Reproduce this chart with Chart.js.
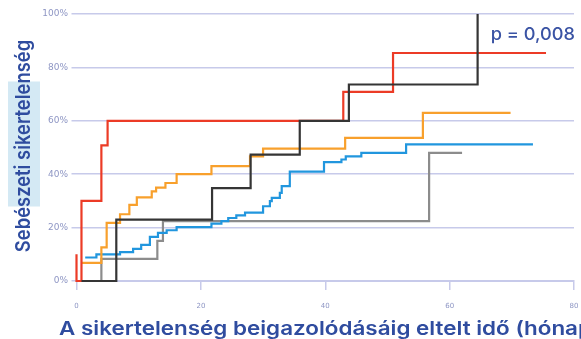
<!DOCTYPE html>
<html>
<head>
<meta charset="utf-8">
<script src="https://cdn.jsdelivr.net/npm/chart.js@4.4.1/dist/chart.umd.min.js"></script>
<style>
  html, body { margin: 0; padding: 0; background: #ffffff; overflow: hidden; }
  #wrap { width: 581px; height: 339px; position: relative; }
</style>
</head>
<body>
<div id="wrap"><canvas id="chart"></canvas></div>
<script>
// Cumulative surgical failure (%) by months until failure was confirmed
const blackMonths = [0.8, 6.4, 21.8, 28.0, 35.9, 43.8, 64.5];
const blackValues = [0, 23, 34.8, 47.3, 60, 73.6, 100];

const redMonths = [0, 0, 0.8, 4.0, 5.0, 42.9, 50.9, 75.5];
const redValues = [10, 0, 30, 50.8, 60, 70.8, 85.4, 85.4];

const orangeMonths = [0.8, 4.0, 4.85, 7.0, 8.5, 9.7, 12.1, 12.8, 14.3, 16.1, 21.7, 27.9, 30.0, 43.2, 55.7, 69.8];
const orangeValues = [6.8, 12.6, 21.8, 25, 28.5, 31.3, 33.6, 35, 36.7, 40, 43, 46.7, 49.6, 53.6, 63, 63];

const blueMonths = [1.4, 3.2, 7.0, 9.1, 10.4, 11.8, 13.1, 14.5, 16.1, 21.7, 23.3, 24.4, 25.7, 27.1, 30.0, 31.1, 31.4, 32.7, 33.0, 34.3, 39.8, 42.6, 43.3, 45.8, 53.0, 73.4];
const blueValues = [8.8, 10, 10.8, 12, 13.5, 16.5, 18, 19, 20.2, 21.5, 22.4, 23.6, 24.6, 25.6, 28, 29.9, 31.1, 33, 35.5, 41, 44.5, 45.5, 46.7, 48, 51.2, 51.2];

const grayMonths = [0.8, 4.0, 13.0, 13.9, 56.7, 62.0];
const grayValues = [0, 8.3, 15, 22.4, 48, 48];

const xTicks = [0, 20, 40, 60, 80];
const yTicks = [0, 20, 40, 60, 80, 100];

const xTitle = 'A sikertelenség beigazolódásáig eltelt idő (hónap)';
const yTitle = 'Sebészeti sikertelenség';
const pValueText = 'p = 0,008';

const TEXT_BLUE = '#2f4c9f';
const GRID = '#c7caea';
const TICK_TEXT = '#8e96c4';
const FONT = 'Inter, "Open Sans", sans-serif';
const TICK_FONT = '"DejaVu Sans", sans-serif';

function toPoints(months, values) {
  return months.map((m, i) => ({ x: m, y: values[i] }));
}

function series(label, months, values, color) {
  return {
    label,
    data: toPoints(months, values),
    borderColor: color,
    backgroundColor: color,
    borderWidth: 2.2,
    pointRadius: 0,
    pointHoverRadius: 0,
    fill: false,
    stepped: 'before',
    tension: 0,
    clip: false
  };
}

// Light highlight band behind the vertical axis title
const titleBand = {
  id: 'titleBand',
  beforeDraw(chart) {
    const { ctx, chartArea } = chart;
    const mid = (chartArea.top + chartArea.bottom) / 2;
    ctx.save();
    ctx.fillStyle = '#d4e9f4';
    ctx.fillRect(8, mid - 66, 32, 125);
    ctx.restore();
  }
};

// Axis titles (drawn with a slightly widened typeface) and the p-value note
const annotations = {
  id: 'annotations',
  afterDraw(chart) {
    const { ctx, chartArea } = chart;
    const ys = chart.scales.y;

    ctx.save();
    ctx.fillStyle = TEXT_BLUE;
    ctx.font = '600 19px ' + FONT;
    ctx.textAlign = 'left';
    ctx.textBaseline = 'alphabetic';
    ctx.translate(59, 335);
    ctx.scale(1.18, 1);
    ctx.fillText(xTitle, 0, 0);
    ctx.restore();

    ctx.save();
    ctx.fillStyle = TEXT_BLUE;
    ctx.font = '600 18.4px ' + FONT;
    ctx.textAlign = 'center';
    ctx.textBaseline = 'middle';
    ctx.translate(24, (chartArea.top + chartArea.bottom) / 2 - 1.5);
    ctx.scale(1.12, 1);
    ctx.rotate(-Math.PI / 2);
    ctx.fillText(yTitle, 0, 0);
    ctx.restore();

    ctx.save();
    ctx.fillStyle = '#3a53a4';
    ctx.font = '500 17px ' + FONT;
    ctx.textAlign = 'right';
    ctx.textBaseline = 'middle';
    ctx.translate(chartArea.right + 1, ys.getPixelForValue(92.3));
    ctx.scale(1.07, 1);
    ctx.fillText(pValueText, 0, 0);
    ctx.restore();
  }
};

new Chart(document.getElementById('chart'), {
  type: 'line',
  data: {
    datasets: [
      series('black', blackMonths, blackValues, '#353535'),
      series('red', redMonths, redValues, '#ec3b26'),
      series('orange', orangeMonths, orangeValues, '#f8a02c'),
      series('blue', blueMonths, blueValues, '#2196de'),
      series('gray', grayMonths, grayValues, '#8c8c8c')
    ]
  },
  options: {
    responsive: true,
    maintainAspectRatio: false,
    animation: false,
    events: [],
    layout: { padding: { top: 14, right: 7, left: 0, bottom: 0 } },
    plugins: {
      legend: { display: false },
      tooltip: { enabled: false }
    },
    scales: {
      x: {
        type: 'linear',
        min: 0,
        max: 80,
        afterBuildTicks(scale) { scale.ticks = xTicks.map(v => ({ value: v })); },
        afterFit(scale) {
          scale.height = 58;
          scale.paddingLeft = 0;
          scale.paddingRight = 0;
        },
        grid: { drawOnChartArea: false, drawTicks: true, tickLength: 9, color: GRID, lineWidth: 1.5 },
        border: { display: true, color: GRID, width: 2 },
        ticks: { color: TICK_TEXT, font: { family: TICK_FONT, size: 7 }, padding: 12, maxRotation: 0 },
        title: { display: false }
      },
      y: {
        min: 0,
        max: 100,
        afterBuildTicks(scale) { scale.ticks = yTicks.map(v => ({ value: v })); },
        afterFit(scale) { scale.width = 76.5; },
        grid: { color: GRID, lineWidth: 1.5, drawTicks: true, tickLength: 5 },
        border: { display: false },
        ticks: {
          color: TICK_TEXT,
          font: { family: TICK_FONT, size: 9 },
          padding: 3.5,
          callback: v => v + '%'
        },
        title: { display: false }
      }
    }
  },
  plugins: [titleBand, annotations]
});
</script>
</body>
</html>
